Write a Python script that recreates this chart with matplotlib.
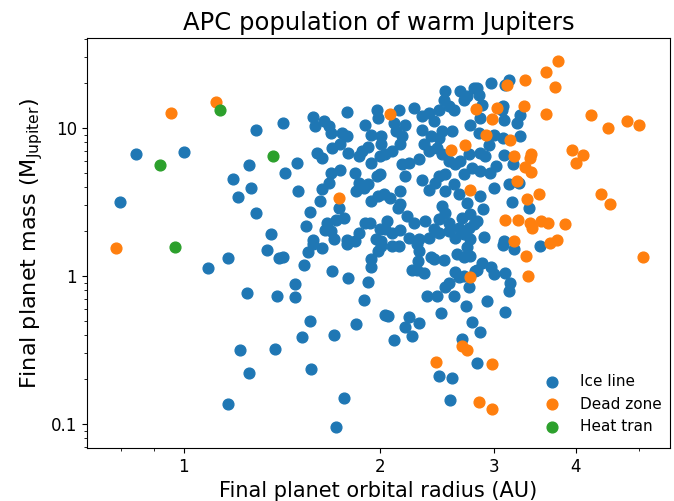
import matplotlib
matplotlib.use("Agg")
import matplotlib.pyplot as plt
from matplotlib.ticker import NullFormatter

# Ice line (blue)
ice_r = [1.29, 1.42, 0.844, 1.0, 0.797, 1.26, 1.19, 1.27, 1.21, 1.29, 1.36, 1.09, 1.17, 1.34, 1.40,
         1.25, 1.39, 1.22, 1.38, 1.26, 1.17, 1.57, 1.76, 1.71, 2.47, 2.58, 2.56, 2.82,
         3.09, 3.21, 3.52, 2.87, 2.96, 3.0, 3.11, 3.17, 3.16, 2.92, 3.11, 2.85, 2.82,
         1.42, 1.55, 1.58, 1.63, 1.78, 1.53, 1.69, 1.79, 1.92, 1.48, 1.48, 1.89, 1.56, 1.52,
         1.70, 1.84, 2.04, 2.06, 2.22, 2.30, 2.19, 2.24, 2.10, 2.48, 2.36, 2.45, 2.60, 2.52,
         2.55, 2.71, 2.77, 2.67, 2.74, 2.61, 2.69, 2.65, 2.80, 2.51, 2.42, 2.40, 2.24, 2.28,
         2.34, 2.29, 2.30, 2.28, 1.94, 1.94, 2.01, 2.09, 2.14, 1.99, 2.63, 2.69, 2.75, 2.72,
         1.43, 1.49, 1.50, 1.56, 1.54, 1.58, 1.60, 1.63, 1.69, 1.74, 1.79, 1.68, 1.74, 1.67,
         1.63, 1.62, 1.73, 1.66, 1.71, 1.76, 1.65, 1.68, 1.70, 1.78, 1.83, 1.86, 1.84, 1.89,
         1.92, 1.98, 2.0, 1.94, 1.99, 2.03, 2.07, 2.15, 2.15, 2.13, 1.86, 1.88, 1.92, 1.94,
         2.0, 2.04, 2.09, 2.01, 2.15, 2.16, 2.22, 2.30, 2.19, 2.32, 2.38, 2.43, 2.47, 2.52,
         2.34, 2.38, 2.45, 2.49, 2.55, 2.61, 2.66, 2.74, 2.77, 2.69, 2.60, 2.52, 2.65, 2.72,
         2.49, 2.52, 2.47, 2.55, 2.67, 2.75, 2.65, 2.74, 2.79, 2.26, 2.20, 2.35, 2.42, 2.47,
         2.55, 2.61, 2.69, 2.75, 2.38, 2.30, 2.22, 2.15, 2.09, 2.04, 2.0, 2.05, 1.93, 1.90,
         1.86, 1.97, 2.01, 1.83,
         1.58, 1.59, 1.64, 1.67, 1.68, 1.78, 1.75, 1.78, 1.90, 1.94, 1.98, 1.99, 2.01, 2.14,
         2.10, 2.12, 2.19, 2.16, 2.26, 2.32, 2.38, 2.42, 2.47, 2.52, 2.51, 2.55, 2.60, 2.66,
         2.69, 2.72, 2.79, 2.49, 2.58, 2.75, 2.32, 2.40, 2.47,
         2.96, 3.16, 3.11, 2.82, 2.84, 2.87, 3.09, 3.08, 2.85, 3.10, 3.28, 3.25, 2.84, 2.99,
         3.09, 3.28,
         2.94, 3.10, 2.85, 2.90, 3.20, 3.02, 2.95, 2.85, 3.16, 3.27, 2.99, 2.85, 3.19, 3.39,
         2.88, 2.82, 2.89, 3.10]
ice_m = [9.69, 10.8, 6.67, 6.9, 3.16, 5.62, 4.52, 3.93, 3.42, 2.67, 1.92, 1.13, 1.32, 1.50, 1.32,
         0.768, 0.733, 0.316, 0.321, 0.221, 0.136, 0.235, 0.150, 0.0954, 0.211, 0.205, 0.145, 0.258,
         1.62, 1.52, 1.60, 1.22, 1.15, 1.03, 1.05, 0.897, 0.792, 0.678, 0.571, 0.418, 1.10,
         1.34, 1.45, 1.65, 1.55, 1.65, 1.19, 1.08, 0.97, 0.911, 0.883, 0.721, 0.689, 0.497, 0.387,
         0.399, 0.474, 0.545, 0.537, 0.528, 0.481, 0.452, 0.393, 0.369, 0.562, 0.733, 0.733, 0.733, 0.843,
         0.897, 0.627, 0.489, 0.375, 0.843, 1.06, 1.0, 0.985, 1.08, 1.28, 1.30, 1.34, 1.10, 1.10,
         1.05, 1.26, 1.48, 1.65, 1.30, 1.15, 1.60, 1.60, 1.60, 1.48, 1.41, 1.34, 1.37, 1.57,
         4.97, 5.80, 3.75, 2.71, 2.18, 1.75, 6.78, 6.27, 7.33, 7.80, 6.78, 4.97, 5.20, 4.25,
         3.87, 3.21, 2.88, 2.28, 2.39, 2.47, 2.05, 2.01, 1.78, 1.75, 4.97, 4.25, 3.75, 3.93,
         4.18, 4.74, 4.89, 3.21, 3.47, 3.58, 3.37, 3.75, 3.06, 2.88, 6.47, 6.99, 7.44, 5.80,
         6.47, 6.67, 6.99, 7.80, 7.80, 5.71, 5.80, 6.17, 4.74, 4.45, 3.81, 4.25, 4.74, 4.89,
         7.80, 6.99, 7.33, 6.67, 5.99, 5.71, 5.99, 6.67, 5.37, 4.89, 4.18, 3.75, 3.58, 3.11,
         2.97, 2.67, 2.43, 2.28, 2.47, 2.62, 2.11, 2.11, 2.25, 2.28, 2.54, 2.35, 2.08, 1.95,
         2.01, 1.81, 1.92, 1.78, 1.81, 1.78, 1.81, 2.05, 1.95, 2.08, 2.08, 2.35, 2.28, 2.28,
         1.95, 1.78, 1.72, 1.72,
         11.8, 10.3, 11.1, 10.3, 9.25, 12.8, 9.25, 8.83, 10.5, 8.97, 13.2, 11.6, 8.83, 13.2,
         10.8, 9.54, 10.5, 8.83, 13.6, 12.0, 12.6, 11.1, 13.2, 17.8, 15.5, 14.1, 13.2, 17.8,
         15.5, 16.5, 18.6, 9.54, 9.54, 10.5, 9.69, 8.83, 8.56,
         20.2, 21.1, 19.5, 18.6, 16.7, 14.4, 14.1, 13.2, 11.6, 11.3, 12.2, 10.8, 9.25, 8.97,
         8.56, 8.83,
         7.68, 6.57, 6.78, 6.47, 5.71, 5.54, 4.97, 5.12, 4.18, 4.25, 3.93, 3.47, 3.16, 2.88,
         2.84, 2.35, 1.83, 1.72]

# Dead zone (orange)
dead_r = [0.786, 0.955, 1.12, 2.07, 1.73, 2.57, 2.70, 2.75, 2.81, 2.91, 2.97, 3.03, 3.14, 3.17,
          3.22, 3.33, 3.34, 3.41, 3.40, 3.34, 3.41, 3.25, 3.51, 3.37, 3.11, 3.26, 3.40, 3.43,
          3.54, 3.63, 3.85, 3.21, 3.65, 3.74, 3.35, 3.38, 2.75, 3.60, 3.76, 3.71, 3.60, 4.22,
          4.48, 4.80, 5.0, 3.94, 4.11, 4.0, 4.37, 4.52, 5.07, 2.44, 2.67, 2.72, 2.84, 2.97, 2.97]
dead_m = [1.55, 12.6, 15.0, 12.4, 3.37, 7.1, 7.68, 3.81, 13.4, 8.97, 11.5, 13.6, 19.5, 8.3,
          6.47, 14.1, 21.1, 6.67, 6.27, 5.45, 5.04, 4.38, 3.58, 3.31, 2.39, 2.39, 2.28, 2.11,
          2.35, 2.28, 2.25, 1.72, 1.67, 1.75, 1.37, 1.0, 0.985, 23.9, 28.2, 18.9, 12.4, 12.2,
          10.0, 11.1, 10.5, 7.1, 6.57, 5.8, 3.58, 3.06, 1.34, 0.262, 0.336, 0.316, 0.141, 0.126, 0.254]

# Heat tran (green)
heat_r = [1.136, 0.919, 1.37, 0.97]
heat_m = [13.2, 5.62, 6.47, 1.57]

fig, ax = plt.subplots(figsize=(6.74, 5.01), dpi=100)
fig.subplots_adjust(left=0.129, right=0.994, top=0.924, bottom=0.106)

ax.scatter(ice_r, ice_m, s=60, color="#1f77b4", label="Ice line")
ax.scatter(dead_r, dead_m, s=60, color="#ff7f0e", label="Dead zone")
ax.scatter(heat_r, heat_m, s=60, color="#2ca02c", label="Heat tran")

ax.set_xscale("log")
ax.set_yscale("log")
ax.set_xlim(0.71, 5.58)
ax.set_ylim(0.069, 40.5)

ax.set_xticks([1, 2, 3, 4])
ax.set_xticklabels(["1", "2", "3", "4"])
ax.xaxis.set_minor_formatter(NullFormatter())
ax.set_yticks([0.1, 1, 10])
ax.set_yticklabels(["0.1", "1", "10"])
ax.yaxis.set_minor_formatter(NullFormatter())
ax.tick_params(labelsize=12)

ax.set_title("APC population of warm Jupiters", fontsize=17.5)
ax.set_xlabel("Final planet orbital radius (AU)", fontsize=15)
ax.set_ylabel(r"Final planet mass (M$_{\rm Jupiter}$)", fontsize=16)
ax.legend(loc="lower right", bbox_to_anchor=(1.009, 0), frameon=False, fontsize=11)

fig.savefig("out.png", dpi=100)
